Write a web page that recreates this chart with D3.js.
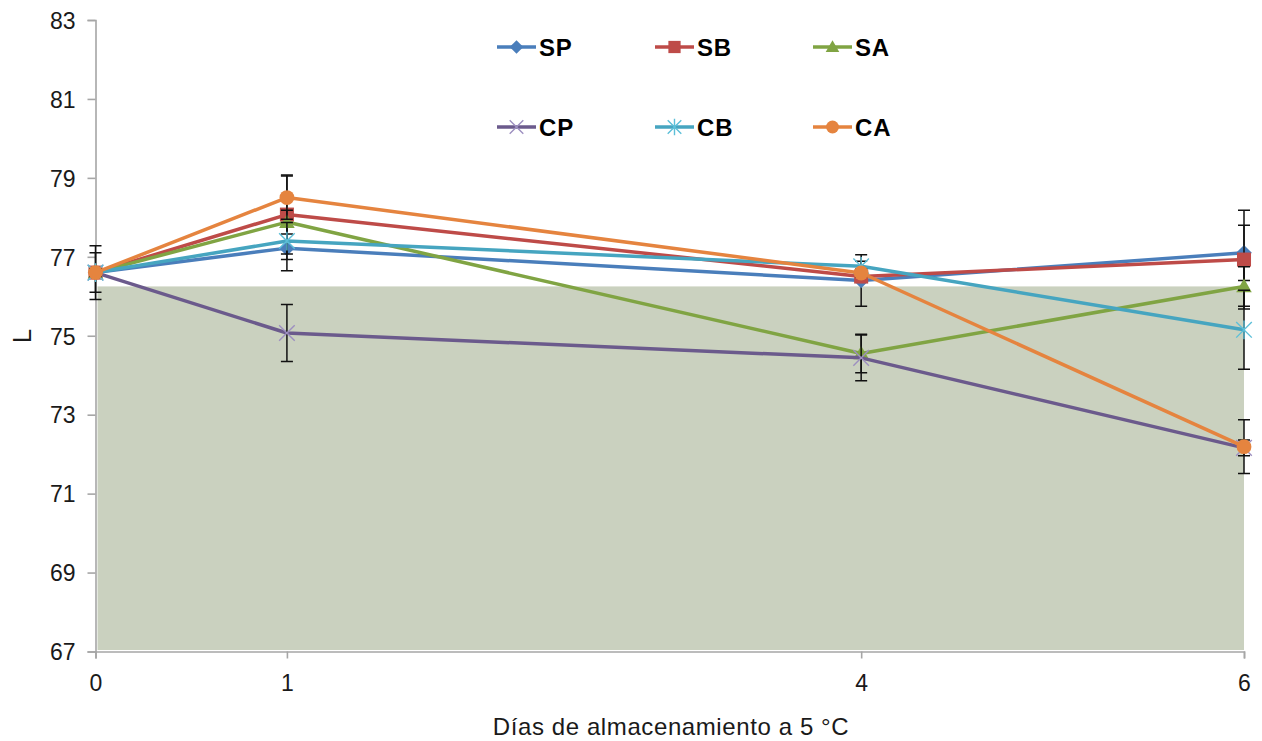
<!DOCTYPE html>
<html>
<head>
<meta charset="utf-8">
<script src="https://cdn.jsdelivr.net/npm/d3@7"></script>
<style>
  html, body { margin: 0; padding: 0; background: #ffffff; }
  svg { display: block; font-family: "Liberation Sans", Arial, sans-serif; }
</style>
</head>
<body>
<svg id="chart" width="1262" height="741"></svg>
<script>
// Storage days at 5 °C
const days = [0, 1, 4, 6];

// Mean L values per treatment
const SP = [76.60, 77.22, 76.40, 77.10];
const SB = [76.60, 78.07, 76.50, 76.93];
const SA = [76.60, 77.88, 74.55, 76.25];
const CP = [76.60, 75.07, 74.44, 72.16];
const CB = [76.60, 77.40, 76.76, 75.15];
const CA = [76.60, 78.50, 76.59, 72.19];

// Standard deviations (error bars)
const errSP = [0.50, 0.57, 0.65, 0.70];
const errSB = [0.68, 1.00, 0.10, 1.25];
const errSA = [0.10, 0.30, 0.49, 0.50];
const errCP = [0.10, 0.72, 0.58, 0.20];
const errCB = [0.10, 0.47, 0.13, 1.00];
const errCA = [0.10, 0.55, 0.10, 0.68];

// Shaded band level
const bandTop = 76.25;

// Axis ticks
const yTicks = [67, 69, 71, 73, 75, 77, 79, 81, 83];
const xTicks = [0, 1, 4, 6];

const seriesNames = ["SP", "SB", "SA", "CP", "CB", "CA"];
const seriesValues = [SP, SB, SA, CP, CB, CA];
const seriesErrors = [errSP, errSB, errSA, errCP, errCB, errCA];
const seriesColors = ["#4a7ebb", "#be4b48", "#80a443", "#6b5a8c", "#46a5c0", "#e5843f"];
const seriesMarkers = ["diamond", "square", "triangle", "cross", "asterisk", "circle"];

const svg = d3.select("#chart");

const x = d3.scaleLinear().domain([0, 6]).range([95.5, 1244]);
const y = d3.scaleLinear().domain([67, 83]).range([651.5, 20]);

// Shaded band
svg.append("rect")
  .attr("x", x(0) + 2)
  .attr("y", y(bandTop))
  .attr("width", x(6) - x(0) - 2)
  .attr("height", y(67) - y(bandTop) - 1.5)
  .attr("fill", "#cad1bf");

// Axes
const axisColor = "#a6a6a6";
const yAxis = svg.append("g")
  .attr("transform", `translate(${x(0)},0)`)
  .call(d3.axisLeft(y).tickValues(yTicks).tickSize(8).tickPadding(12).tickFormat(d3.format("d")));
const xAxis = svg.append("g")
  .attr("transform", `translate(0,${y(67)})`)
  .call(d3.axisBottom(x).tickValues(xTicks).tickSize(7).tickPadding(16).tickFormat(d3.format("d")));

[yAxis, xAxis].forEach(g => {
  g.attr("font-size", null).attr("font-family", null);
  g.select(".domain").attr("stroke", axisColor).attr("stroke-width", 1.6);
  g.selectAll(".tick line").attr("stroke", axisColor).attr("stroke-width", 1.6);
  g.selectAll(".tick text").attr("fill", "#1a1a1a").style("font-size", "23px")
    .style("font-family", "'Liberation Sans', Arial, sans-serif");
});
yAxis.selectAll(".tick text").attr("dy", "0.36em");

// Axis titles
svg.append("text")
  .attr("x", 671)
  .attr("y", 735)
  .attr("text-anchor", "middle")
  .attr("fill", "#1a1a1a")
  .style("font-size", "24px")
  .style("letter-spacing", "0.6px")
  .text("Días de almacenamiento a 5 °C");

svg.append("text")
  .attr("transform", "translate(31,336) rotate(-90)")
  .attr("text-anchor", "middle")
  .attr("fill", "#1a1a1a")
  .style("font-size", "26px")
  .text("L");

// Marker drawing
function drawMarker(g, type, color, cx, cy, s) {
  if (type === "diamond") {
    g.append("path").attr("d", `M${cx},${cy - s}L${cx + s},${cy}L${cx},${cy + s}L${cx - s},${cy}Z`).attr("fill", color);
  } else if (type === "square") {
    g.append("rect").attr("x", cx - s * 0.9).attr("y", cy - s * 0.9).attr("width", s * 1.8).attr("height", s * 1.8).attr("fill", color);
  } else if (type === "triangle") {
    g.append("path").attr("d", `M${cx},${cy - s}L${cx + s},${cy + s * 0.75}L${cx - s},${cy + s * 0.75}Z`).attr("fill", color);
  } else if (type === "circle") {
    g.append("circle").attr("cx", cx).attr("cy", cy).attr("r", s * 0.95).attr("fill", color);
  } else if (type === "cross") {
    const c = "#9d8fc0";
    g.append("path").attr("d", `M${cx - s},${cy - s}L${cx + s},${cy + s}M${cx - s},${cy + s}L${cx + s},${cy - s}`)
      .attr("stroke", c).attr("stroke-width", 1.4).attr("fill", "none");
  } else if (type === "asterisk") {
    const c = "#5cbfd8";
    g.append("path").attr("d", `M${cx - s},${cy - s}L${cx + s},${cy + s}M${cx - s},${cy + s}L${cx + s},${cy - s}M${cx},${cy - s * 1.2}L${cx},${cy + s * 1.2}`)
      .attr("stroke", c).attr("stroke-width", 1.4).attr("fill", "none");
  }
}

const line = d3.line().x((d, i) => x(days[i])).y(d => y(d));
const capHalf = 6;

// Series: line, error bars, markers
seriesValues.forEach((vals, k) => {
  const g = svg.append("g");
  g.append("path")
    .datum(vals)
    .attr("d", line)
    .attr("fill", "none")
    .attr("stroke", seriesColors[k])
    .attr("stroke-width", 3.5)
    .attr("stroke-linejoin", "round");

  vals.forEach((v, i) => {
    const e = seriesErrors[k][i];
    const cx = x(days[i]);
    const y1 = y(v + e), y2 = y(v - e);
    g.append("path")
      .attr("d", `M${cx},${y1}L${cx},${y2}M${cx - capHalf},${y1}L${cx + capHalf},${y1}M${cx - capHalf},${y2}L${cx + capHalf},${y2}`)
      .attr("stroke", "#111").attr("stroke-width", 1.5).attr("fill", "none");
  });

  vals.forEach((v, i) => {
    drawMarker(g, seriesMarkers[k], seriesColors[k], x(days[i]), y(v), 7.8);
  });
});

// Legend
const legendCols = [497, 655, 813];
const legendRows = [47, 127];
seriesNames.forEach((name, k) => {
  const lx = legendCols[k % 3], ly = legendRows[Math.floor(k / 3)];
  const g = svg.append("g");
  g.append("line").attr("x1", lx).attr("x2", lx + 39).attr("y1", ly).attr("y2", ly)
    .attr("stroke", seriesColors[k]).attr("stroke-width", 3.5);
  drawMarker(g, seriesMarkers[k], seriesColors[k], lx + 19.5, ly, 6.8);
  g.append("text")
    .attr("x", lx + 42)
    .attr("y", ly)
    .attr("dy", "0.36em")
    .attr("fill", "#000")
    .style("font-size", "24px")
    .style("font-weight", "bold")
    .style("letter-spacing", "0.8px")
    .text(name);
});
</script>
</body>
</html>
